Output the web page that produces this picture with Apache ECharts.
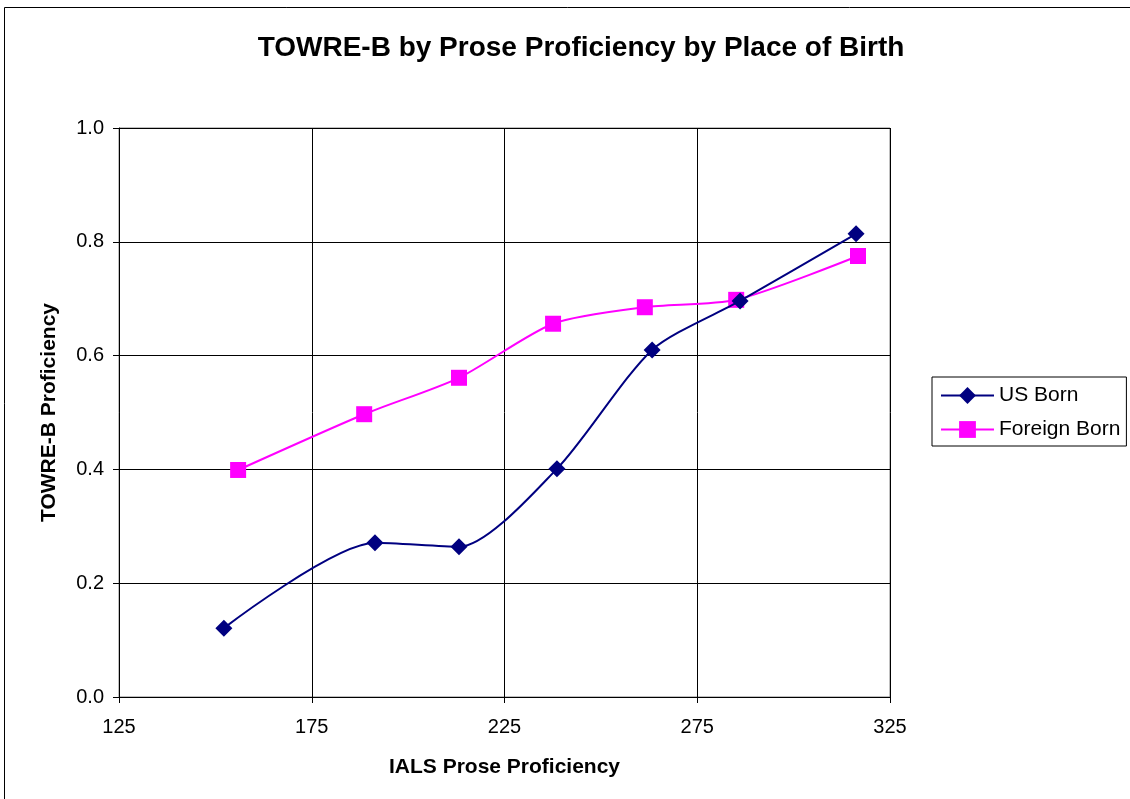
<!DOCTYPE html>
<html><head><meta charset="utf-8">
<script src="https://cdn.jsdelivr.net/npm/echarts@6/dist/echarts.min.js"></script>
<style>html,body{margin:0;padding:0;background:#fff}#c{width:1130px;height:799px}</style>
</head><body><div id="c"></div>
<script>
const usBornX = [152.2, 191.4, 213.2, 238.6, 263.3, 286.1, 316.2];
const usBornY = [0.121, 0.271, 0.264, 0.401, 0.610, 0.696, 0.814];
const foreignX = [155.9, 188.6, 213.2, 237.6, 261.4, 285.1, 316.7];
const foreignY = [0.399, 0.497, 0.561, 0.656, 0.685, 0.698, 0.775];
const xTicks = [125, 175, 225, 275, 325];
const yTicks = [0.0, 0.2, 0.4, 0.6, 0.8, 1.0];

const F = '"Liberation Sans", Arial, sans-serif';
const chart = echarts.init(document.getElementById('c'), null, {renderer: 'canvas'});
chart.setOption({
  backgroundColor: '#fff',
  animation: false,
  title: {
    text: 'TOWRE-B by Prose Proficiency by Place of Birth',
    left: 576, top: 29, textAlign: 'center',
    textStyle: {fontFamily: F, fontSize: 28, fontWeight: 'bold', color: '#000'}
  },
  graphic: [{
    type: 'rect', shape: {x: 4.5, y: 7.5, width: 1140, height: 800},
    style: {fill: 'none', stroke: '#000', lineWidth: 1}, silent: true
  }],
  legend: {
    orient: 'vertical', left: 932, top: 377,
    padding: [8, 6, 6, 8],
    itemGap: 13, itemWidth: 53, itemHeight: 21,
    borderColor: '#000', borderWidth: 1,
    textStyle: {fontFamily: F, fontSize: 21, color: '#000'},
    data: ['US Born', 'Foreign Born']
  },
  grid: {left: 119, right: 240, top: 128, bottom: 102, show: true, borderColor: '#808080', borderWidth: 1},
  xAxis: {
    type: 'value', min: 125, max: 325, interval: 50,
    name: 'IALS Prose Proficiency', nameLocation: 'middle', nameGap: 60,
    nameTextStyle: {fontFamily: F, fontSize: 21, fontWeight: 'bold', color: '#000'},
    axisLine: {show: true, lineStyle: {color: '#000', width: 1}},
    axisTick: {show: true, inside: false, length: 6, lineStyle: {color: '#000'}},
    axisLabel: {fontFamily: F, fontSize: 20, color: '#000', margin: 20,
      formatter: v => xTicks.includes(v) ? String(v) : ''},
    splitLine: {show: true, lineStyle: {color: '#000', width: 1}}
  },
  yAxis: {
    type: 'value', min: 0, max: 1, interval: 0.2,
    name: 'TOWRE-B Proficiency', nameLocation: 'middle', nameGap: 59, nameRotate: 90,
    nameTextStyle: {fontFamily: F, fontSize: 21, fontWeight: 'bold', color: '#000'},
    axisLine: {show: true, lineStyle: {color: '#000', width: 1}},
    axisTick: {show: true, inside: false, length: 6, lineStyle: {color: '#000'}},
    axisLabel: {fontFamily: F, fontSize: 20, color: '#000', margin: 15,
      formatter: v => yTicks.find(t => Math.abs(t - v) < 1e-9).toFixed(1)},
    splitLine: {show: true, lineStyle: {color: '#000', width: 1}}
  },
  series: [
    {
      name: 'US Born', type: 'line', smooth: 0.25,
      data: usBornX.map((x, i) => [x, usBornY[i]]),
      symbol: 'diamond', symbolSize: 17,
      lineStyle: {color: '#000080', width: 2},
      itemStyle: {color: '#000080'},
      z: 3
    },
    {
      name: 'Foreign Born', type: 'line', smooth: 0.25,
      data: foreignX.map((x, i) => [x, foreignY[i]]),
      symbol: 'rect', symbolSize: 16,
      lineStyle: {color: '#FF00FF', width: 2},
      itemStyle: {color: '#FF00FF'},
      z: 2
    }
  ]
});
</script></body></html>
